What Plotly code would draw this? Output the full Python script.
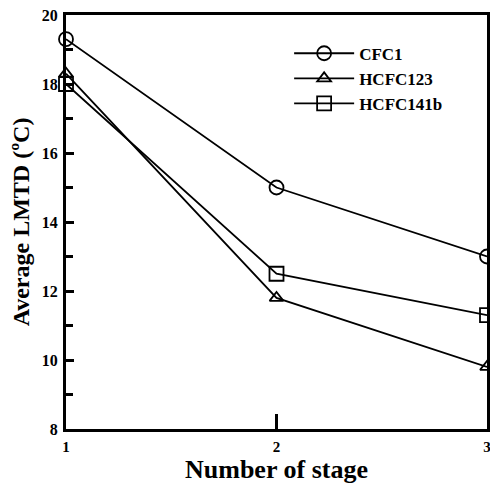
import plotly.graph_objects as go

stages = [1, 2, 3]
cfc1 = [19.3, 15.0, 13.0]
hcfc123 = [18.3, 11.8, 9.8]
hcfc141b = [18.0, 12.5, 11.3]

font_family = "Liberation Serif"

fig = go.Figure()
series = [
    ("CFC1", cfc1, "circle-open", 14),
    ("HCFC123", hcfc123, "triangle-up-open", 12),
    ("HCFC141b", hcfc141b, "square-open", 14),
]
for name, vals, sym, sz in series:
    fig.add_trace(go.Scatter(
        x=stages, y=vals, name=name, mode="lines+markers",
        line=dict(color="black", width=1.8),
        marker=dict(symbol=sym, size=sz, color="black", line=dict(width=1.8, color="black")),
        cliponaxis=False,
    ))

fig.update_layout(
    width=490, height=484,
    margin=dict(l=66, r=3, t=15, b=55, autoexpand=False),
    plot_bgcolor="white", paper_bgcolor="white",
    font=dict(family=font_family, color="black"),
    showlegend=True,
    legend=dict(
        x=0.53, y=0.95, xanchor="left", yanchor="top",
        bgcolor="rgba(0,0,0,0)",
        font=dict(family=font_family, size=17, color="black", weight="bold"),
        tracegroupgap=0, itemwidth=60,
    ),
)
fig.update_xaxes(
    range=[1, 3], tickvals=[1, 2, 3], ticktext=["1", "2", "3"],
    ticks="inside", ticklen=15, tickwidth=3, tickcolor="black",
    showline=True, linewidth=3, linecolor="black", mirror=True,
    showgrid=False, zeroline=False, automargin=False,
    ticklabeloverflow="allow", ticklabelstandoff=2,
    tickfont=dict(family=font_family, size=15, color="black", weight="bold"),
    title=dict(text="Number of stage", standoff=2,
               font=dict(family=font_family, size=26, color="black", weight="bold")),
)
fig.update_yaxes(
    range=[8, 20], dtick=2, tick0=8,
    ticks="inside", ticklen=8, tickwidth=3, tickcolor="black",
    minor=dict(dtick=1, tick0=8, ticks="inside", ticklen=7, tickwidth=3, tickcolor="black"),
    showline=True, linewidth=3, linecolor="black", mirror=True,
    showgrid=False, zeroline=False, automargin=False,
    ticklabeloverflow="allow", ticklabelstandoff=2,
    tickfont=dict(family=font_family, size=16, color="black", weight="bold"),
    title=dict(text="Average LMTD (ºC)", standoff=6,
               font=dict(family=font_family, size=24, color="black", weight="bold")),
)

fig.write_html(
    "out.html",
    config={"displayModeBar": False},
    post_script="document.body.style.margin='0';document.body.style.overflow='hidden';",
)
